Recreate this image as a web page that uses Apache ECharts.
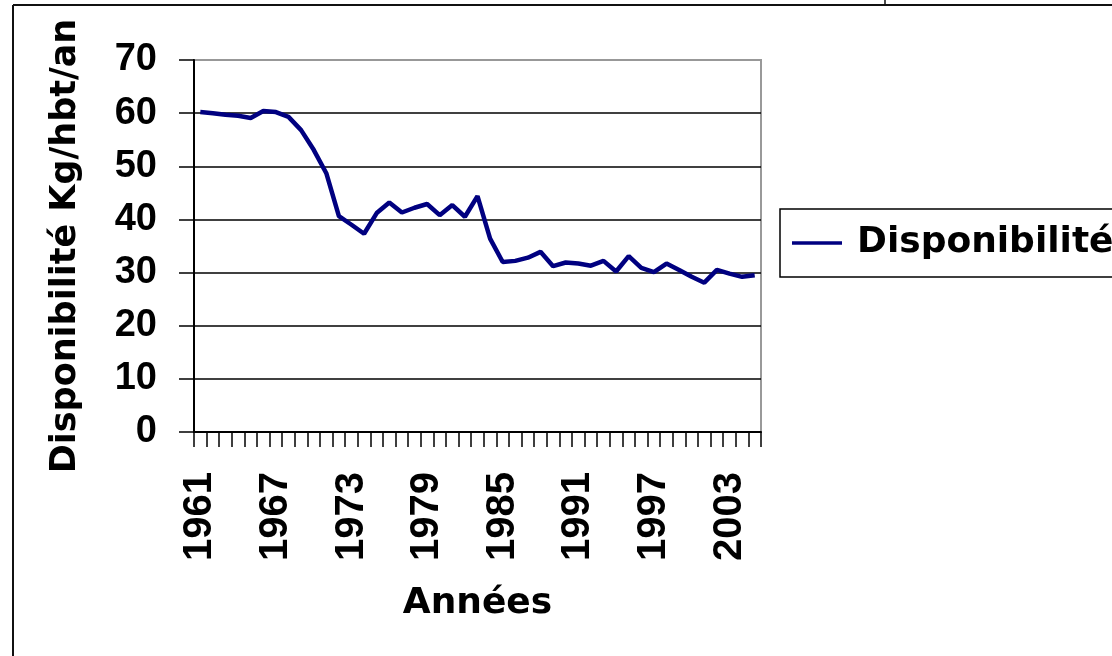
<!DOCTYPE html>
<html>
<head>
<meta charset="utf-8">
<script src="https://cdn.jsdelivr.net/npm/echarts@6/dist/echarts.min.js"></script>
<style>html,body{margin:0;padding:0;background:#fff;}#c{width:1112px;height:656px;}</style>
</head>
<body>
<div id="c"></div>
<script>
const years = [];
for (let y = 1961; y <= 2005; y++) years.push(String(y));
const disponibilite = [60.2, 60.0, 59.7, 59.5, 59.1, 60.4, 60.2, 59.3, 56.8, 53.1,
  48.7, 40.6, 39.0, 37.3, 41.2, 43.2, 41.3, 42.2, 42.9, 40.8,
  42.7, 40.5, 44.4, 36.4, 32.0, 32.2, 32.8, 33.9, 31.2, 31.9,
  31.7, 31.3, 32.2, 30.2, 33.1, 30.9, 30.1, 31.7, 30.5, 29.2,
  28.1, 30.5, 29.8, 29.2, 29.5];
const seriesName = 'Disponibilité';
const xTitle = 'Années';
const yTitle = 'Disponibilité Kg/hbt/an';

const NUMF = '"Liberation Sans", Arial, sans-serif';
const TXTF = '"DejaVu Sans", sans-serif';

const chart = echarts.init(document.getElementById('c'), null, {renderer: 'canvas'});
chart.setOption({
  backgroundColor: '#fff',
  animation: false,
  grid: {left: 194, top: 60, right: 351, bottom: 224, show: true, backgroundColor: '#fff', borderColor: '#999', borderWidth: 2},
  legend: {
    data: [seriesName], left: 780, top: 209, orient: 'vertical',
    icon: 'rect', itemWidth: 50, itemHeight: 3.5,
    borderColor: '#000', borderWidth: 1.5, padding: [16, 60, 16, 12],
    textStyle: {fontFamily: TXTF, fontWeight: 'bold', fontSize: 36, color: '#000', padding: [0, 0, 0, 10]}
  },
  xAxis: {
    type: 'category', data: years, boundaryGap: true,
    name: xTitle, nameLocation: 'middle', nameGap: 154,
    nameTextStyle: {fontFamily: TXTF, fontWeight: 'bold', fontSize: 36, color: '#000'},
    axisLine: {lineStyle: {color: '#000', width: 2}},
    axisTick: {show: true, interval: 0, length: 15, lineStyle: {color: '#000', width: 1.5}},
    axisLabel: {interval: 5, rotate: 90, margin: 40, fontFamily: NUMF, fontWeight: 'bold', fontSize: 40, color: '#000'},
    splitLine: {show: false}
  },
  yAxis: {
    type: 'value', min: 0, max: 70, interval: 10,
    name: yTitle, nameLocation: 'middle', nameGap: 111, nameRotate: 90,
    nameTextStyle: {fontFamily: TXTF, fontWeight: 'bold', fontSize: 35, color: '#000'},
    axisLine: {show: true, lineStyle: {color: '#000', width: 2}},
    axisTick: {show: true, length: 15, lineStyle: {color: '#000', width: 1.5}},
    axisLabel: {margin: 37, fontFamily: NUMF, fontWeight: 'bold', fontSize: 38, color: '#000'},
    splitLine: {show: true, lineStyle: {color: ['#000','#000','#000','#000','#000','#000','#000','#999'], width: 1.5}}
  },
  series: [{
    name: seriesName, type: 'line', data: disponibilite,
    symbol: 'none', lineStyle: {color: '#000080', width: 4.5}, itemStyle: {color: '#000080'}
  }],
  graphic: [
    {type: 'line', shape: {x1: 13, y1: 5, x2: 1112, y2: 5}, style: {stroke: '#111', lineWidth: 2}},
    {type: 'line', shape: {x1: 13, y1: 5, x2: 13, y2: 656}, style: {stroke: '#111', lineWidth: 2}},
    {type: 'line', shape: {x1: 885, y1: 0, x2: 885, y2: 5}, style: {stroke: '#111', lineWidth: 1.5}}
  ]
});
</script>
</body>
</html>
